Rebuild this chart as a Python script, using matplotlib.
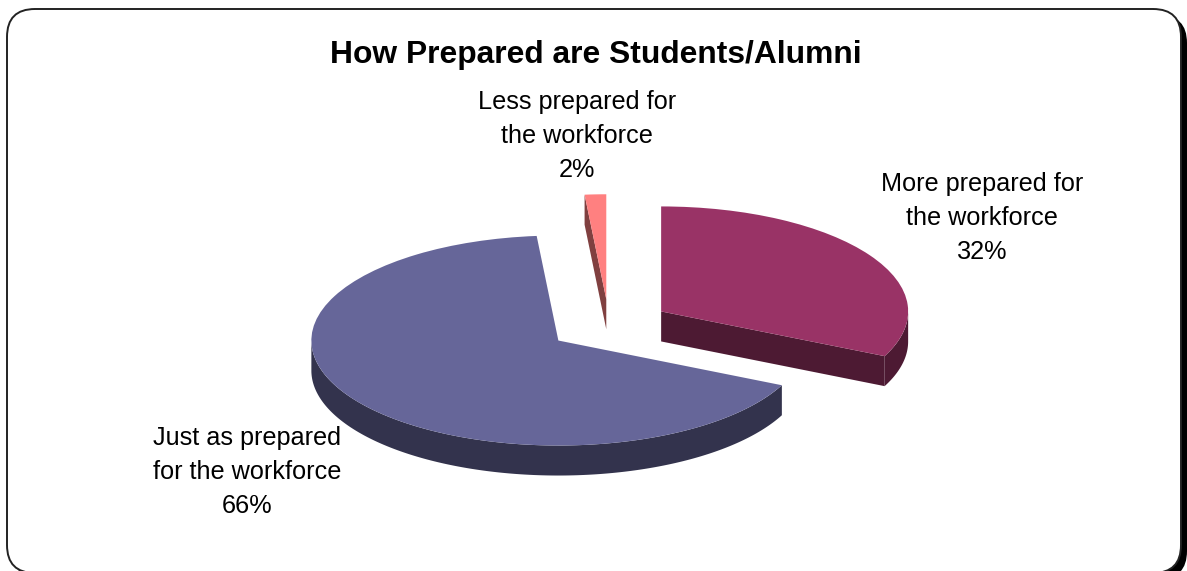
import matplotlib
matplotlib.use("Agg")
import matplotlib.pyplot as plt
from matplotlib.patches import FancyBboxPatch, Polygon
import numpy as np

categories = ["More prepared for\nthe workforce", "Just as prepared\nfor the workforce", "Less prepared for\nthe workforce"]
shares = [32.0, 66.6, 1.4]
share_labels = ["32%", "66%", "2%"]
top_colors = ["#993366", "#666699", "#FF8080"]
side_colors = ["#4D1A33", "#33334D", "#804040"]

W, H = 1187, 571
RX, RY = 247.0, 105.0  # pixel size of one pie radius
CX, CY = 609.0, 325.5  # pie centre in pixels
DEPTH = 30.0 / RY

plt.rcParams["font.family"] = ["Liberation Sans", "DejaVu Sans"]

fig = plt.figure(figsize=(W / 100, H / 100), dpi=100)

# frame and text, in pixels
bg = fig.add_axes([0, 0, 1, 1])
bg.set_xlim(0, W)
bg.set_ylim(H, 0)
bg.axis("off")
box = "round,pad=0,rounding_size=28"
bg.add_patch(FancyBboxPatch((13, 15), 1174, 564, boxstyle=box, fc="black", ec="none"))
bg.add_patch(FancyBboxPatch((7, 9), 1174, 564, boxstyle=box, fc="white", ec="#222222", lw=1.4))

bg.text(596, 55, "How Prepared are Students/Alumni", fontsize=22.9, fontweight="bold",
        ha="center", va="center")

label_xy = [(982, 218), (247, 472), (577, 136)]
for name, pct, (x, y) in zip(categories, share_labels, label_xy):
    bg.text(x, y, name + "\n" + pct, fontsize=18.2, ha="center", va="center",
            multialignment="center", linespacing=1.52)

# pie, one data unit is one radius (squashed vertically)
ax = fig.add_axes([0, 0, 1, 1])
ax.patch.set_alpha(0)
wedges, _ = ax.pie(shares, colors=top_colors, explode=[0.25] * 3, startangle=90,
                   counterclock=False, radius=1, wedgeprops={"linewidth": 0})
ax.set_aspect("auto")
ax.set_xlim(-CX / RX, (W - CX) / RX)
ax.set_ylim(-(H - CY) / RY, CY / RY)
ax.axis("off")


def add_side(pts, color):
    pts = np.array(pts)
    low = pts - [0, DEPTH]
    ax.add_patch(Polygon(np.vstack([pts, low[::-1]]), closed=True, fc=color,
                         ec="none", zorder=1))


for w, color in zip(wedges, side_colors):
    cx, cy = w.center
    t1, t2 = sorted((w.theta1, w.theta2))
    # cut faces turned towards the viewer
    for t, normal in ((t1, t1 - 90), (t2, t2 + 90)):
        if np.sin(np.radians(normal)) < -1e-6:
            a = np.radians(t)
            add_side([(cx, cy), (cx + np.cos(a), cy + np.sin(a))], color)
    # outer rim, only the front half shows
    th = np.radians(np.linspace(t1, t2, 400))
    th = th[np.sin(th) <= 0]
    if len(th) > 1:
        add_side(np.column_stack([cx + np.cos(th), cy + np.sin(th)]), color)
    w.set_zorder(2)

fig.savefig("out.png", dpi=100)
